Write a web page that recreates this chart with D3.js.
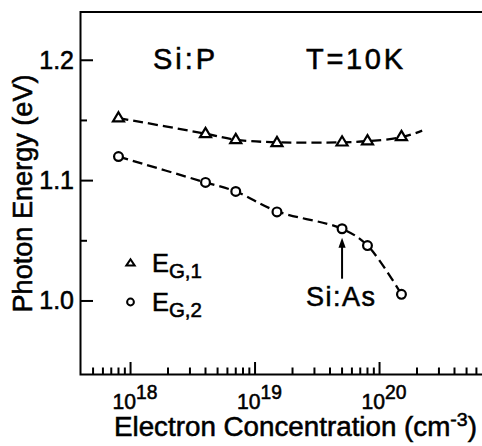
<!DOCTYPE html>
<html>
<head>
<meta charset="utf-8">
<script src="https://cdn.jsdelivr.net/npm/d3@7"></script>
<style>
  html, body { margin: 0; padding: 0; background: #fff; }
  svg { display: block; }
  text { font-family: "Liberation Sans", Arial, sans-serif; fill: #000; stroke: #000; stroke-width: 0.55; }
</style>
</head>
<body>
<div id="chart"></div>
<script>
// ---- data ----
const concentration = [8e17, 4e18, 7e18, 1.5e19, 5e19, 8e19, 1.5e20];   // cm^-3
const eg1 = [1.152, 1.139, 1.134, 1.1315, 1.132, 1.133, 1.1365];          // triangles
const eg2 = [1.120, 1.0985, 1.091, 1.074, 1.060, 1.046, 1.0055];          // circles
// dashed guide through E_G,1 (extends past last point)
const fit1N = [8e17, 4e18, 7e18, 1.5e19, 5e19, 8e19, 1.5e20, 2.2e20];
const fit1E = [1.152, 1.139, 1.134, 1.1318, 1.1318, 1.1328, 1.136, 1.1415];
// dashed guide through E_G,2
const fit2N = [8e17, 4e18, 7e18, 1.5e19, 5e19, 8e19, 1.5e20];
const fit2E = [1.120, 1.0985, 1.091, 1.0745, 1.060, 1.046, 1.0055];
// Si:As arrow
const arrowN = [5e19, 5e19];
const arrowE = [1.0185, 1.0525];
// axis ticks
const xMajorExp = [18, 19, 20];
const yMajor = [1.0, 1.1, 1.2];
const yMinor = [1.05, 1.15];
const legendLabels = [["E", "G,1"], ["E", "G,2"]];

const W = 482, H = 446;
const mLeft = 80.5, mRight = 482, mTop = 12, mBottom = 374.5;

const x = d3.scaleLog().domain([Math.pow(10, 17.598), Math.pow(10, 20.823)]).range([mLeft, mRight]);
const y = d3.scaleLinear().domain([0.9389, 1.2401]).range([mBottom, mTop]);

const svg = d3.select("#chart").append("svg").attr("width", W).attr("height", H);

// frame: left, top, bottom
svg.append("path")
  .attr("d", `M${mRight},${mTop}H${mLeft}V${mBottom}H${mRight}`)
  .attr("fill", "none").attr("stroke", "#000").attr("stroke-width", 2);

// y ticks (inward)
svg.selectAll(".ymaj").data(yMajor).join("line")
  .attr("x1", mLeft).attr("x2", mLeft + 12.5)
  .attr("y1", d => y(d)).attr("y2", d => y(d))
  .attr("stroke", "#000").attr("stroke-width", 2);
svg.selectAll(".ymin").data(yMinor).join("line")
  .attr("x1", mLeft).attr("x2", mLeft + 6.5)
  .attr("y1", d => y(d)).attr("y2", d => y(d))
  .attr("stroke", "#000").attr("stroke-width", 2);
svg.selectAll(".ylab").data(yMajor).join("text")
  .attr("x", mLeft - 6.5).attr("y", d => y(d) + 8.5)
  .attr("text-anchor", "end").attr("font-size", 25)
  .text(d => d.toFixed(1));

// x ticks (inward, log)
const xMinor = [];
for (let e = 17; e <= 20; e++) for (let m = 2; m <= 9; m++) {
  const v = m * Math.pow(10, e);
  if (x(v) > mLeft + 3 && x(v) < mRight) xMinor.push(v);
}
svg.selectAll(".xmin").data(xMinor).join("line")
  .attr("x1", d => x(d)).attr("x2", d => x(d))
  .attr("y1", mBottom).attr("y2", mBottom - 7)
  .attr("stroke", "#000").attr("stroke-width", 2);
svg.selectAll(".xmaj").data(xMajorExp).join("line")
  .attr("x1", d => x(Math.pow(10, d))).attr("x2", d => x(Math.pow(10, d)))
  .attr("y1", mBottom).attr("y2", mBottom - 12.5)
  .attr("stroke", "#000").attr("stroke-width", 2);
const xl = svg.selectAll(".xlab").data(xMajorExp).join("text")
  .attr("x", d => x(Math.pow(10, d)) - 18).attr("y", 409)
  .attr("font-size", 22).attr("textLength", 45).attr("lengthAdjust", "spacingAndGlyphs");
xl.append("tspan").text("10");
xl.append("tspan").attr("dy", -10).attr("font-size", 20).text(d => d);

// axis titles
const xt = svg.append("text").attr("x", 114).attr("y", 436).attr("font-size", 27)
  .attr("textLength", 363).attr("lengthAdjust", "spacingAndGlyphs");
xt.append("tspan").text("Electron Concentration (cm");
xt.append("tspan").attr("dy", -10).attr("font-size", 19).text("-3");
xt.append("tspan").attr("dy", 10).text(")");

svg.append("text")
  .attr("transform", "translate(32,193.5) rotate(-90)")
  .attr("text-anchor", "middle").attr("font-size", 27)
  .attr("textLength", 238).attr("lengthAdjust", "spacingAndGlyphs")
  .text("Photon Energy (eV)");

// guide lines
const line = d3.line().x(d => x(d[0])).y(d => y(d[1])).curve(d3.curveCatmullRom.alpha(0.5));
svg.append("path").attr("d", line(fit1N.map((n, i) => [n, fit1E[i]])))
  .attr("fill", "none").attr("stroke", "#000").attr("stroke-width", 2.3)
  .attr("stroke-dasharray", "10,5");
svg.append("path").attr("d", line(fit2N.map((n, i) => [n, fit2E[i]])))
  .attr("fill", "none").attr("stroke", "#000").attr("stroke-width", 2.3)
  .attr("stroke-dasharray", "10,5");

// markers
const tri = "M0,-5.8L5.5,3.4L-5.5,3.4Z";
svg.selectAll(".tri").data(concentration).join("path")
  .attr("d", tri)
  .attr("transform", (d, i) => `translate(${x(d)},${y(eg1[i])})`)
  .attr("fill", "#fff").attr("stroke", "#000").attr("stroke-width", 2.2);
svg.selectAll(".circ").data(concentration).join("circle")
  .attr("cx", d => x(d)).attr("cy", (d, i) => y(eg2[i])).attr("r", 4.4)
  .attr("fill", "#fff").attr("stroke", "#000").attr("stroke-width", 2.2);

// arrow
const ax = x(arrowN[0]), ay0 = y(arrowE[0]), ay1 = y(arrowE[1]);
svg.append("line").attr("x1", ax).attr("x2", ax).attr("y1", ay0).attr("y2", ay1 + 6)
  .attr("stroke", "#000").attr("stroke-width", 2);
svg.append("path").attr("d", `M${ax},${ay1}L${ax + 3.6},${ay1 + 10}L${ax - 3.6},${ay1 + 10}Z`)
  .attr("fill", "#000");

// annotations
svg.append("text").attr("x", 153).attr("y", 69).attr("font-size", 29)
  .attr("textLength", 62).text("Si:P");
svg.append("text").attr("x", 306).attr("y", 69).attr("font-size", 29)
  .attr("textLength", 97).text("T=10K");
svg.append("text").attr("x", 306).attr("y", 306).attr("font-size", 27)
  .attr("textLength", 69).text("Si:As");

// legend
const legY = [263, 302];
svg.append("path").attr("d", "M0,-3.8L4.2,2.6L-4.2,2.6Z")
  .attr("transform", `translate(130.5,${legY[0]})`)
  .attr("fill", "#fff").attr("stroke", "#000").attr("stroke-width", 2);
svg.append("circle").attr("cx", 130.5).attr("cy", legY[1]).attr("r", 3.4)
  .attr("fill", "#fff").attr("stroke", "#000").attr("stroke-width", 2);
legendLabels.forEach((lab, i) => {
  const t = svg.append("text").attr("x", 152).attr("y", legY[i] + 9).attr("font-size", 26)
    .attr("textLength", 50).attr("lengthAdjust", "spacingAndGlyphs");
  t.append("tspan").text(lab[0]);
  t.append("tspan").attr("dy", 6).attr("font-size", 21).text(lab[1]);
});
</script>
</body>
</html>
